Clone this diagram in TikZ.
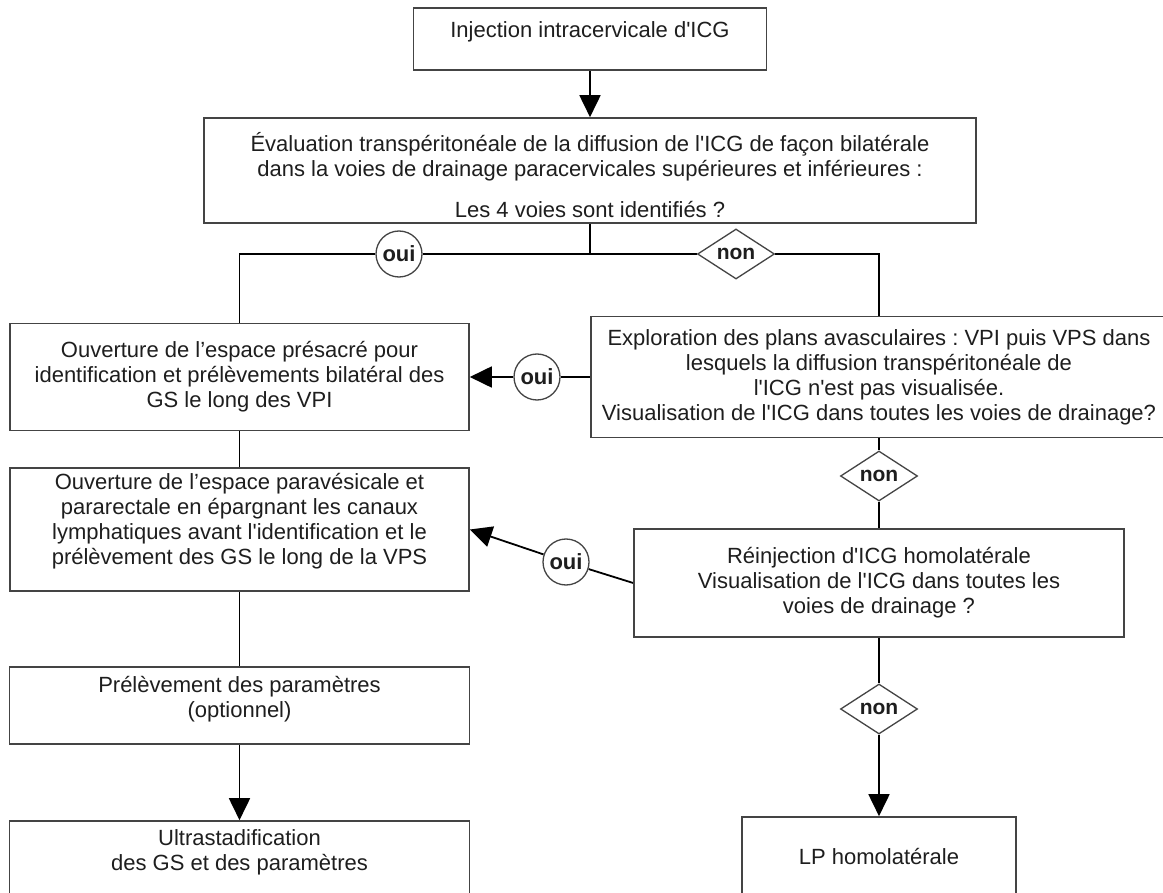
\documentclass[tikz,border=0pt]{standalone}
\usepackage{fontspec}
\newfontfamily\lib{Liberation Sans}
\usetikzlibrary{shapes.geometric,arrows.meta}
\pgfdeclarelayer{bg}
\pgfsetlayers{bg,main}
\frenchspacing
\definecolor{boxline}{HTML}{444444}
\definecolor{txt}{HTML}{1E1E1E}
\tikzset{
  box/.style={draw=boxline, line width=1.6pt, fill=white, align=center, inner sep=3pt,
    text=txt, font=\lib\frenchspacing\fontsize{22}{25}\selectfont},
  ouilabel/.style={circle, draw=boxline, line width=1.3pt, fill=white, minimum size=46pt,
    inner sep=0pt, text=txt, font=\lib\bfseries\fontsize{22}{24}\selectfont},
  nonlabel/.style={diamond, draw=boxline, line width=1.3pt, fill=white, minimum width=77pt,
    minimum height=47pt, inner sep=0pt, text=txt, font=\lib\bfseries\fontsize{21}{23}\selectfont},
  link/.style={line width=1.8pt, draw=black},
  arr/.style={link, -{Triangle[length=22pt,width=21pt]}},
}
\begin{document}
\begin{tikzpicture}[x=1pt,y=-1pt]
\useasboundingbox (0,0) rectangle (1163,893);
\clip (0,0) rectangle (1163,893);

% boxes
\node[box, minimum width=353pt, minimum height=62pt] (top) at (590,39)
  {Injection intracervicale d'ICG\\[-6pt]\mbox{}};
\node[box, minimum width=772pt, minimum height=105pt] (eval) at (590,170.5)
  {\mbox{}\\[3pt]Évaluation transpéritonéale de la diffusion de l'ICG de façon bilatérale\\
   dans la voies de drainage paracervicales supérieures et inférieures :\\[16pt]
   Les 4 voies sont identifiés ?};
\node[box, minimum width=459pt, minimum height=107pt] (ouv1) at (239.5,377)
  {Ouverture de l’espace présacré pour\\identification et prélèvements bilatéral des\\GS le long des VPI};
\node[box, minimum width=459pt, minimum height=123pt] (ouv2) at (239.5,529.5)
  {Ouverture de l’espace paravésicale et\\pararectale en épargnant les canaux\\lymphatiques avant l'identification et le\\prélèvement des GS le long de la VPS\\[-4pt]\mbox{}};
\node[box, minimum width=460pt, minimum height=77pt] (prel) at (239.5,705.5)
  {Prélèvement des paramètres\\(optionnel)\\[-8pt]\mbox{}};
\node[box, minimum width=460pt, minimum height=84pt] (ultra) at (239.5,863)
  {Ultrastadification\\des GS et des paramètres\\ \mbox{}};
\node[box, minimum width=576pt, minimum height=121pt] (expl) at (879,377)
  {Exploration des plans avasculaires : VPI puis VPS dans\\lesquels la diffusion transpéritonéale de\\l'ICG n'est pas visualisée.\\Visualisation de l'ICG dans toutes les voies de drainage?};
\node[box, minimum width=490pt, minimum height=108pt] (reinj) at (879,583)
  {Réinjection d'ICG homolatérale\\Visualisation de l'ICG dans toutes les\\voies de drainage ?};
\node[box, minimum width=274pt, minimum height=80pt] (lp) at (879,857)
  {LP homolatérale};

% decision labels
\node[ouilabel] (oui1) at (399,254) {oui};
\node[nonlabel] (non1) at (736,254) {non};
\node[ouilabel] (oui2) at (537,377) {oui};
\node[ouilabel] (oui3) at (566,562) {oui};
\node[nonlabel] (non2) at (879,476) {non};
\node[nonlabel] (non3) at (879,709) {non};

\begin{pgfonlayer}{bg}
\fill[white] (0,0) rectangle (1163,893);
\draw[arr] (top.south) -- (eval.north);
\draw[link] (eval.south) |- (oui1) -| (ouv1.north);
\draw[link] (eval.south) |- (non1) -| (expl.north);
\draw[arr] (expl.west) -- (oui2) -- (ouv1.east);
\draw[link] (expl.south) -- (non2) -- (reinj.north);
\draw[arr] (reinj.west) -- (oui3) -- (ouv2.east);
\draw[arr] (reinj.south) -- (non3) -- (lp.north);
\draw[link] (ouv1.south) -- (ouv2.north);
\draw[link] (ouv2.south) -- (prel.north);
\draw[arr] (prel.south) -- (ultra.north);
\end{pgfonlayer}
\end{tikzpicture}
\end{document}
